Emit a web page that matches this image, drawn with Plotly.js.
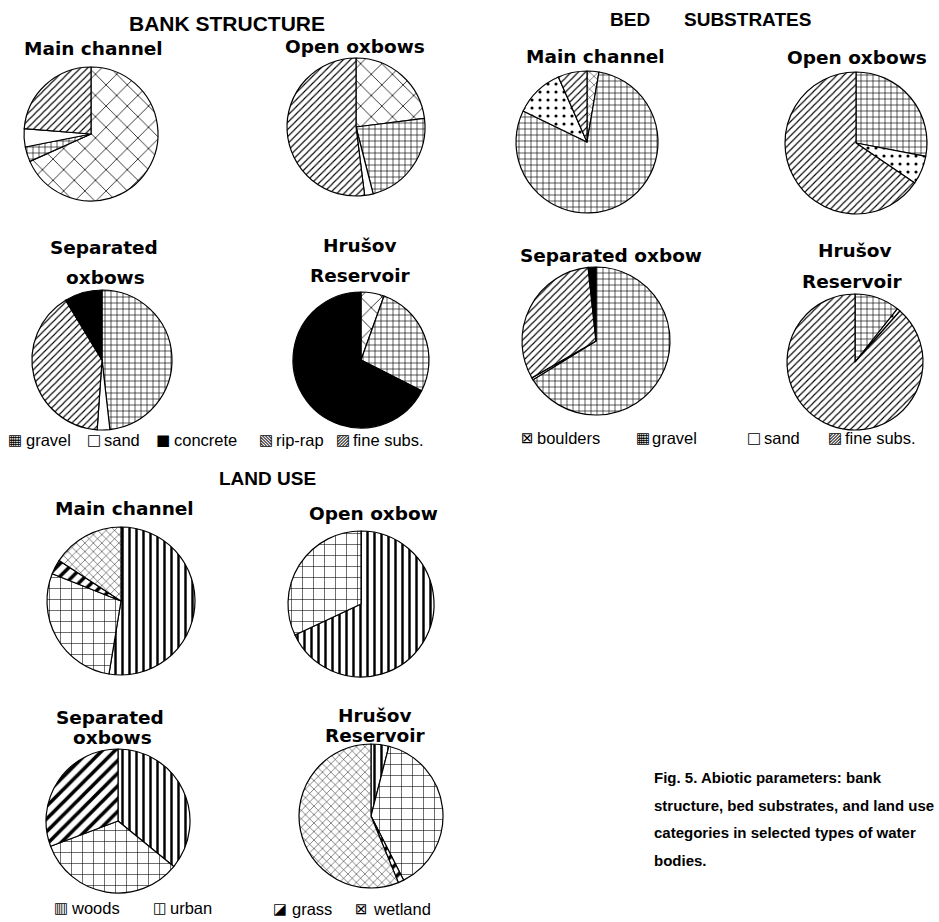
<!DOCTYPE html>
<html>
<head>
<meta charset="utf-8">
<script src="https://cdn.plot.ly/plotly-3.0.1.min.js"></script>
<style>html,body{margin:0;padding:0;background:#fff;}#chart{width:939px;height:922px;}</style>
</head>
<body>
<div id="chart"></div>
<script>
// ---------------- DATA ----------------
// Bank structure (clockwise from 12 o'clock), % of bank length
const bankMainLabels   = ['rip-rap', 'gravel', 'sand', 'fine subs.'];
const bankMainValues   = [68.3, 3.6, 4.4, 23.7];
const bankOpenLabels   = ['rip-rap', 'gravel', 'sand', 'fine subs.'];
const bankOpenValues   = [23, 23, 2, 52];
const bankSepLabels    = ['gravel', 'sand', 'fine subs.', 'concrete'];
const bankSepValues    = [48.2, 2.9, 40.2, 8.7];
const bankHrusovLabels = ['rip-rap', 'gravel', 'concrete'];
const bankHrusovValues = [5.5, 27, 67.5];

// Bed substrates
const bedMainLabels    = ['boulders', 'gravel', 'sand', 'fine subs.'];
const bedMainValues    = [2.7, 79.5, 11.2, 6.6];
const bedOpenLabels    = ['gravel', 'sand', 'fine subs.'];
const bedOpenValues    = [28, 6.5, 65.5];
const bedSepLabels     = ['gravel', 'sand', 'fine subs.', 'boulders'];
const bedSepValues     = [66.2, 0.5, 31.6, 1.7];
const bedHrusovLabels  = ['gravel', 'sand', 'fine subs.'];
const bedHrusovValues  = [10.7, 0.8, 88.5];

// Land use
const landMainLabels   = ['woods', 'urban', 'grass', 'wetland'];
const landMainValues   = [52.6, 28.4, 3.2, 15.8];
const landOpenLabels   = ['woods', 'urban'];
const landOpenValues   = [68, 32];
const landSepLabels    = ['woods', 'urban', 'grass'];
const landSepValues    = [35.9, 33.4, 30.7];
const landHrusovLabels = ['woods', 'urban', 'grass', 'wetland'];
const landHrusovValues = [4, 38.5, 1.3, 56.2];

// Legend categories
const bankLegend = ['gravel', 'sand', 'concrete', 'rip-rap', 'fine subs.'];
const bedLegendA = ['boulders', 'gravel'];
const bedLegendB = ['sand', 'fine subs.'];
const landLegendA = ['woods', 'urban'];
const landLegendB = ['grass', 'wetland'];

// Titles
const groupTitles = ['BANK STRUCTURE', 'BED', 'SUBSTRATES', 'LAND USE'];
const captionLines = ['Fig. 5. Abiotic parameters: bank',
                      'structure, bed substrates, and land use',
                      'categories in selected types of water',
                      'bodies.'];

// ---------------- STYLES ----------------
const W = 939, H = 922;
const px = x => x / W;
const py = y => 1 - y / H;

const styles = {
  bank: {
    'gravel':     {shape: '+', size: 6,  solidity: 0.2,  color: '#fff'},
    'sand':       {shape: '',  size: 8,  solidity: 0.3,  color: '#fff'},
    'concrete':   {shape: '',  size: 8,  solidity: 0.3,  color: '#000'},
    'rip-rap':    {shape: 'x', size: 15, solidity: 0.1,  color: '#fff'},
    'fine subs.': {shape: '/', size: 5,  solidity: 0.22, color: '#fff'}
  },
  bed: {
    'boulders':   {shape: 'x', size: 6,  solidity: 0.15, color: '#fff'},
    'boulders-dark': {shape: '', size: 8, solidity: 0.3, color: '#000'},
    'gravel':     {shape: '+', size: 6,  solidity: 0.2,  color: '#fff'},
    'sand':       {shape: '.', size: 8,  solidity: 0.12, color: '#fff'},
    'fine subs.': {shape: '/', size: 5,  solidity: 0.22, color: '#fff'}
  },
  land: {
    'woods':   {shape: '|', size: 7,  solidity: 0.35, color: '#fff'},
    'urban':   {shape: '+', size: 11, solidity: 0.1,  color: '#fff'},
    'grass':   {shape: '/', size: 9,  solidity: 0.4,  color: '#fff'},
    'wetland': {shape: 'x', size: 6,  solidity: 0.15, color: '#fff'}
  }
};

const pies = [
  {g: 'bank', labels: bankMainLabels,   values: bankMainValues,   cx: 91,  cy: 134, r: 67},
  {g: 'bank', labels: bankOpenLabels,   values: bankOpenValues,   cx: 356, cy: 127, r: 69},
  {g: 'bank', labels: bankSepLabels,    values: bankSepValues,    cx: 102, cy: 360, r: 70},
  {g: 'bank', labels: bankHrusovLabels, values: bankHrusovValues, cx: 361, cy: 360, r: 68},
  {g: 'bed',  labels: bedMainLabels,    values: bedMainValues,    cx: 587, cy: 142, r: 71},
  {g: 'bed',  labels: bedOpenLabels,    values: bedOpenValues,    cx: 856, cy: 143, r: 71},
  {g: 'bed',  labels: bedSepLabels,     values: bedSepValues,     cx: 596, cy: 341, r: 74, dark: 'boulders'},
  {g: 'bed',  labels: bedHrusovLabels,  values: bedHrusovValues,  cx: 855, cy: 362, r: 68},
  {g: 'land', labels: landMainLabels,   values: landMainValues,   cx: 121, cy: 601, r: 74},
  {g: 'land', labels: landOpenLabels,   values: landOpenValues,   cx: 361, cy: 604, r: 73},
  {g: 'land', labels: landSepLabels,    values: landSepValues,    cx: 118, cy: 821, r: 72},
  {g: 'land', labels: landHrusovLabels, values: landHrusovValues, cx: 371, cy: 816, r: 72}
];

const traces = pies.map(p => {
  const st = p.labels.map(l => (p.dark === l ? styles[p.g][l + '-dark'] : styles[p.g][l]));
  return {
    type: 'pie',
    labels: p.labels,
    values: p.values,
    sort: false,
    direction: 'clockwise',
    rotation: 0,
    textinfo: 'none',
    hoverinfo: 'label+percent',
    showlegend: false,
    domain: {x: [px(p.cx - p.r), px(p.cx + p.r)], y: [py(p.cy + p.r), py(p.cy - p.r)]},
    marker: {
      colors: st.map(s => s.color),
      line: {color: '#000', width: 1.2},
      pattern: {
        shape: st.map(s => s.shape),
        size: st.map(s => s.size),
        solidity: st.map(s => s.solidity),
        fgcolor: st.map(() => '#000'),
        bgcolor: st.map(s => s.color),
        fillmode: 'replace'
      }
    }
  };
});

// ---------------- ANNOTATIONS ----------------
const ann = [];
function txt(t, x, y, size, family, opts) {
  ann.push(Object.assign({
    text: t, x: px(x), y: py(y), xref: 'paper', yref: 'paper',
    showarrow: false, xanchor: 'center', yanchor: 'middle',
    font: {size: size, family: family, color: '#000'}
  }, opts || {}));
}
const ARIAL = 'Liberation Sans, Arial, sans-serif';
const TAHOMA = 'DejaVu Sans, Verdana, sans-serif';
const SUB = 18.5;

// group titles
txt('<b>' + groupTitles[0] + '</b>', 227, 23, 21, ARIAL);
txt('<b>' + groupTitles[1] + '</b>', 630, 20, 19, ARIAL);
txt('<b>' + groupTitles[2] + '</b>', 747, 20, 19, ARIAL);
txt('<b>' + groupTitles[3] + '</b>', 267, 478, 19, ARIAL);

// pie titles
txt('<b>Main channel</b>', 93, 49, SUB, TAHOMA);
txt('<b>Open oxbows</b>', 355, 46, SUB, TAHOMA);
txt('<b>Separated</b>', 104, 247, SUB, TAHOMA);
txt('<b>oxbows</b>', 105, 277, SUB, TAHOMA);
txt('<b>Hrušov</b>', 360, 246, SUB, TAHOMA);
txt('<b>Reservoir</b>', 360, 275, SUB, TAHOMA);

txt('<b>Main channel</b>', 595, 56, SUB, TAHOMA);
txt('<b>Open oxbows</b>', 857, 57, SUB, TAHOMA);
txt('<b>Separated oxbow</b>', 611, 256, SUB, TAHOMA);
txt('<b>Hrušov</b>', 855, 250, SUB, TAHOMA);
txt('<b>Reservoir</b>', 852, 281, SUB, TAHOMA);

txt('<b>Main channel</b>', 124, 509, SUB, TAHOMA);
txt('<b>Open oxbow</b>', 373, 513, SUB, TAHOMA);
txt('<b>Separated</b>', 110, 717, SUB, TAHOMA);
txt('<b>oxbows</b>', 112, 737, SUB, TAHOMA);
txt('<b>Hrušov</b>', 375, 715, SUB, TAHOMA);
txt('<b>Reservoir</b>', 375, 735, SUB, TAHOMA);

// legends: icon glyph + label
const icons = {
  'gravel': '▦', 'sand': '□', 'concrete': '■', 'rip-rap': '▧', 'fine subs.': '▨',
  'boulders': '⊠', 'woods': '▥', 'urban': '◫', 'grass': '◪', 'wetland': '⊠'
};
function legendRow(cats, xs, y) {
  cats.forEach((c, i) => {
    txt(icons[c], xs[i][0], y, 15, 'DejaVu Sans', {xanchor: 'center'});
    txt(c, xs[i][1], y, 16.5, ARIAL, {xanchor: 'left'});
  });
}
legendRow(bankLegend, [[15, 24], [94, 102], [163, 172], [266, 274], [343, 351]], 440);
legendRow(bedLegendA, [[527, 535], [643, 650]], 438);
legendRow(bedLegendB, [[754, 762], [835, 843]], 438);
legendRow(landLegendA, [[61, 69], [160, 168]], 908);
legendRow(landLegendB, [[280, 290], [361, 371]], 909);

// caption
const capY = [777, 805, 832, 860];
captionLines.forEach((l, i) => txt('<b>' + l + '</b>', 652, capY[i], 15, ARIAL, {xanchor: 'left'}));

const layout = {
  width: W, height: H,
  margin: {l: 0, r: 0, t: 0, b: 0},
  paper_bgcolor: '#fff', plot_bgcolor: '#fff',
  showlegend: false,
  annotations: ann
};

Plotly.newPlot('chart', traces, layout, {displayModeBar: false, staticPlot: true});
</script>
</body>
</html>
